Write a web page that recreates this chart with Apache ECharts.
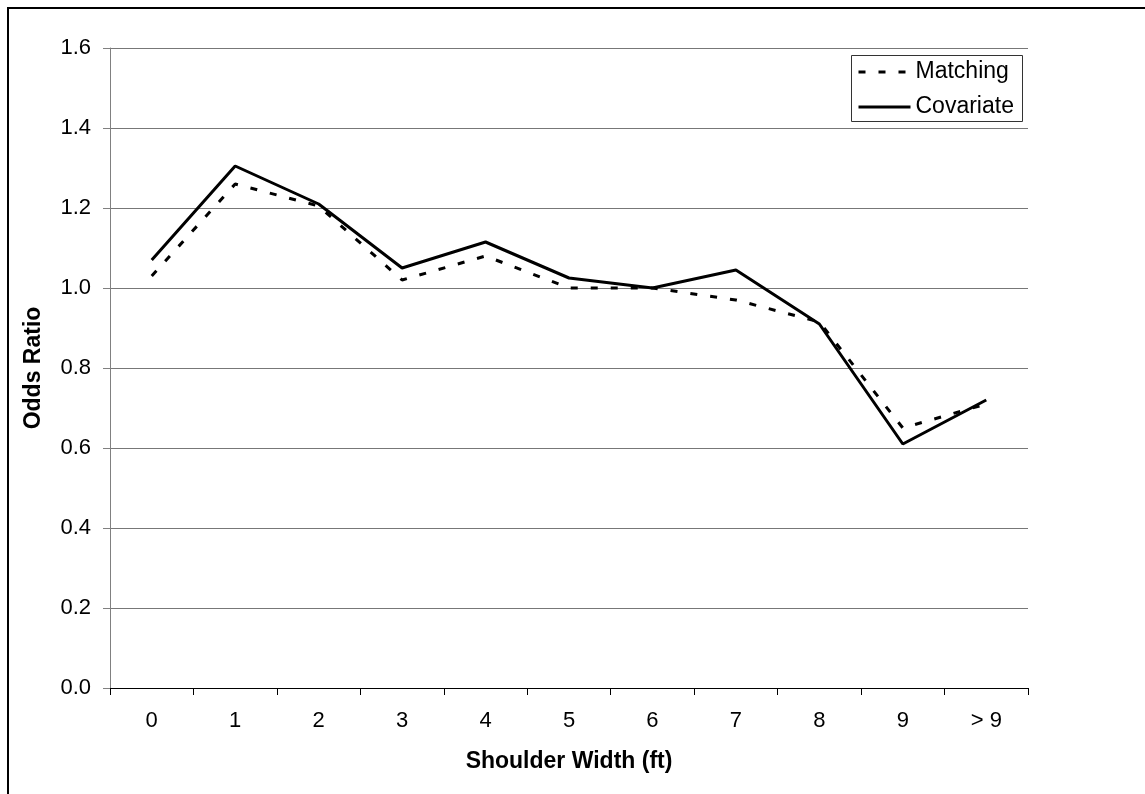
<!DOCTYPE html>
<html>
<head>
<meta charset="utf-8">
<title>Odds Ratio by Shoulder Width</title>
<script src="https://cdn.jsdelivr.net/npm/echarts@6/dist/echarts.min.js"></script>
<style>
  html, body { margin: 0; padding: 0; background: #fff; }
  #chart { width: 1145px; height: 794px; }
</style>
</head>
<body>
<div id="chart"></div>
<script>
// Shoulder width categories (ft)
const categories = ['0', '1', '2', '3', '4', '5', '6', '7', '8', '9', '> 9'];
// Odds ratio estimates by method
const matching = [1.03, 1.26, 1.205, 1.02, 1.08, 1.00, 1.00, 0.97, 0.915, 0.65, 0.71];
const covariate = [1.07, 1.305, 1.21, 1.05, 1.115, 1.025, 1.00, 1.045, 0.91, 0.61, 0.72];
// Value axis range
const yMin = 0;
const yMax = 1.6;
const yStep = 0.2;

const FONT = '"Liberation Sans", Arial, Helvetica, sans-serif';

const chart = echarts.init(document.getElementById('chart'), null, { renderer: 'canvas' });

chart.setOption({
  animation: false,
  backgroundColor: '#ffffff',
  textStyle: { fontFamily: FONT, color: '#000' },
  grid: { left: 110, right: 117, top: 48, bottom: 106, containLabel: false },
  legend: {
    orient: 'vertical',
    left: 857,
    top: 60,
    padding: 0,
    itemGap: 11,
    itemWidth: 52,
    itemHeight: 14,
    selectedMode: false,
    // line samples only, no point markers
    itemStyle: { opacity: 0, borderWidth: 0 },
    lineStyle: { width: 3 },
    textStyle: { fontFamily: FONT, fontSize: 23, color: '#000', lineHeight: 24 },
    data: ['Matching', 'Covariate']
  },
  xAxis: {
    type: 'category',
    data: categories,
    boundaryGap: true,
    name: 'Shoulder Width (ft)',
    nameLocation: 'middle',
    nameGap: 62,
    nameTextStyle: { fontFamily: FONT, fontSize: 23, fontWeight: 'bold', color: '#000' },
    axisLine: { show: true, lineStyle: { color: '#000', width: 1 } },
    axisTick: { show: true, alignWithLabel: false, length: 7, lineStyle: { color: '#000' } },
    axisLabel: { fontFamily: FONT, fontSize: 22, color: '#000', margin: 22 },
    splitLine: { show: false }
  },
  yAxis: {
    type: 'value',
    min: yMin,
    max: yMax,
    interval: yStep,
    name: 'Odds Ratio',
    nameLocation: 'middle',
    nameGap: 65,
    nameTextStyle: { fontFamily: FONT, fontSize: 23, fontWeight: 'bold', color: '#000' },
    axisLine: { show: true, lineStyle: { color: '#808080', width: 1 } },
    axisTick: { show: true, length: 7, lineStyle: { color: '#808080' } },
    axisLabel: {
      fontFamily: FONT, fontSize: 22, color: '#000', margin: 19,
      formatter: v => v.toFixed(1)
    },
    splitLine: { show: true, lineStyle: { color: '#777', width: 1 } }
  },
  series: [
    {
      name: 'Matching',
      type: 'line',
      data: matching,
      symbol: 'none',
      z: 3,
      lineStyle: { color: '#000', width: 3, type: [7, 13], cap: 'butt' },
      itemStyle: { color: '#000' }
    },
    {
      name: 'Covariate',
      type: 'line',
      data: covariate,
      symbol: 'none',
      z: 4,
      lineStyle: { color: '#000', width: 3, type: 'solid' },
      itemStyle: { color: '#000' }
    }
  ],
  graphic: [
    // outer frame (top and left edges)
    {
      type: 'polyline',
      silent: true,
      shape: { points: [[8, 794], [8, 8], [1145, 8]] },
      style: { stroke: '#000', lineWidth: 2, fill: null }
    },
    // legend box
    {
      type: 'rect',
      silent: true,
      z: 0,
      shape: { x: 851.5, y: 55.5, width: 171, height: 66 },
      style: { stroke: '#333', lineWidth: 1, fill: '#fff' }
    }
  ]
});
</script>
</body>
</html>
